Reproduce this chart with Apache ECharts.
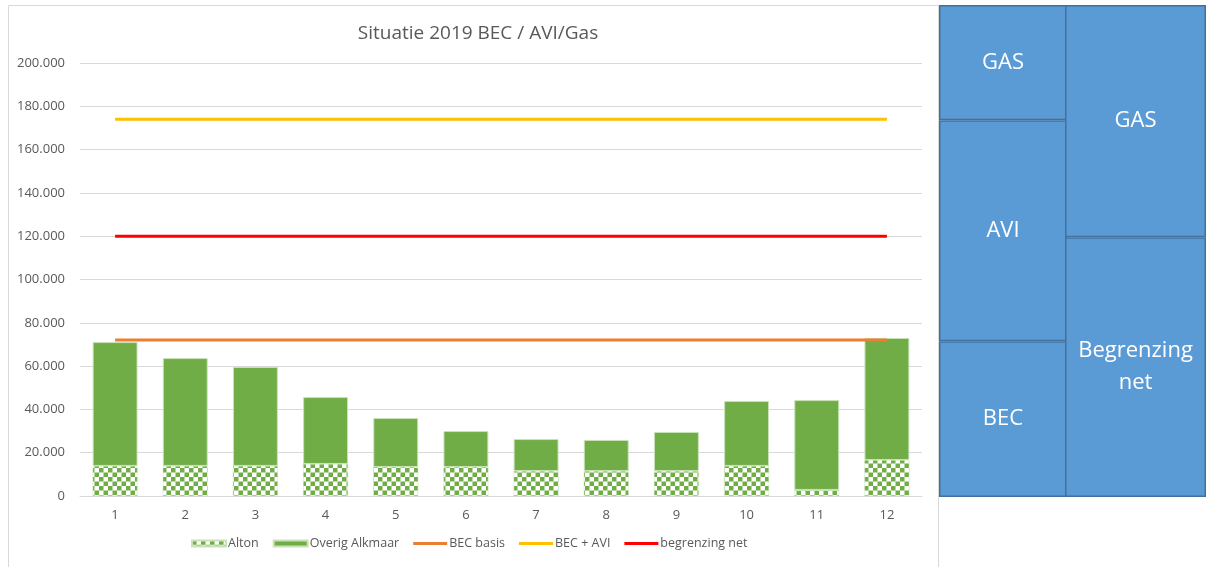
<!DOCTYPE html>
<html><head><meta charset="utf-8">
<script src="https://cdn.jsdelivr.net/npm/echarts@6/dist/echarts.min.js"></script>
<style>html,body{margin:0;padding:0;background:#fff}#c{width:1206px;height:567px}</style>
</head><body><div id="c"></div>
<script>
const months = ['1','2','3','4','5','6','7','8','9','10','11','12'];
const alton = [13900, 13900, 13900, 14800, 13400, 13400, 11500, 11500, 11500, 13900, 2800, 16600];
const totals = [71100, 63700, 59600, 45700, 36000, 30000, 26300, 25900, 29600, 43900, 44300, 73000];
const overig = totals.map((t, i) => t - alton[i]);
const becBasis = 72000;
const becAvi = 174000;
const begrenzingNet = 120000;
const yTicks = [0, 20000, 40000, 60000, 80000, 100000, 120000, 140000, 160000, 180000, 200000];
const boxLeftNames = ['BEC', 'AVI', 'GAS'];
const boxLeftValues = [72000, 102000, 53300];
const boxRightNames = ['Begrenzing\nnet', 'GAS'];
const boxRightValues = [120000, 107300];
const boxMax = 227300;

const FONT = "'Liberation Sans Narrow', 'Open Sans', sans-serif";
const GREEN = '#70AD47';

function makeChecker() {
  const c = document.createElement('canvas');
  c.width = 9; c.height = 9;
  const g = c.getContext('2d');
  g.fillStyle = '#ffffff'; g.fillRect(0, 0, 9, 9);
  g.fillStyle = GREEN;
  g.fillRect(0, 0, 4.5, 4.5); g.fillRect(4.5, 4.5, 4.5, 4.5);
  return c;
}
const checker = { image: makeChecker(), repeat: 'repeat' };

const fmt = v => String(v).replace(/\B(?=(\d{3})+(?!\d))/g, '.');
const flat = v => months.map(() => v);

const chart = echarts.init(document.getElementById('c'), null, { renderer: 'canvas' });

const boxItem = { color: '#5B9BD5', borderColor: '#41719C', borderWidth: 1.5 };
const boxLabel = { show: true, position: 'inside', color: '#ffffff', fontSize: 22, fontFamily: "'Open Sans', sans-serif", lineHeight: 32 };

const series = [
  { name: 'Alton', type: 'bar', stack: 'm', xAxisIndex: 0, yAxisIndex: 0, data: alton, barWidth: '64%',
    itemStyle: { color: checker, borderColor: '#c9e2b8', borderWidth: 0.5 } },
  { name: 'Overig Alkmaar', type: 'bar', stack: 'm', xAxisIndex: 0, yAxisIndex: 0, data: overig, barWidth: '64%',
    itemStyle: { color: GREEN, borderColor: '#c9e2b8', borderWidth: 1 } },
  { name: 'BEC basis', type: 'line', xAxisIndex: 0, yAxisIndex: 0, data: flat(becBasis), symbol: 'none',
    lineStyle: { color: '#ED7D31', width: 3 }, itemStyle: { color: '#ED7D31' } },
  { name: 'BEC + AVI', type: 'line', xAxisIndex: 0, yAxisIndex: 0, data: flat(becAvi), symbol: 'none',
    lineStyle: { color: '#FFC000', width: 3 }, itemStyle: { color: '#FFC000' } },
  { name: 'begrenzing net', type: 'line', xAxisIndex: 0, yAxisIndex: 0, data: flat(begrenzingNet), symbol: 'none',
    lineStyle: { color: '#FF0000', width: 3 }, itemStyle: { color: '#FF0000' } }
];
boxLeftNames.forEach((n, i) => {
  series.push({ type: 'bar', stack: 'bl', xAxisIndex: 1, yAxisIndex: 1, barWidth: '100%',
    data: [boxLeftValues[i]], itemStyle: boxItem, label: Object.assign({ formatter: n }, boxLabel), silent: true });
});
boxRightNames.forEach((n, i) => {
  series.push({ type: 'bar', stack: 'br', xAxisIndex: 2, yAxisIndex: 2, barWidth: '100%',
    data: [boxRightValues[i]], itemStyle: boxItem, label: Object.assign({ formatter: n }, boxLabel), silent: true });
});

const lineIcon = 'path://M0,0 L34,0 L34,3 L0,3 Z';

chart.setOption({
  animation: false,
  backgroundColor: '#ffffff',
  title: { text: 'Situatie 2019 BEC / AVI/Gas', left: 473, top: 19, textAlign: 'center',
    textStyle: { fontFamily: FONT, fontSize: 19, fontWeight: 'normal', color: '#595959' } },
  legend: { bottom: 12, left: 186, itemGap: 14, itemWidth: 34, itemHeight: 6,
    data: [
      { name: 'Alton', icon: 'rect' },
      { name: 'Overig Alkmaar', icon: 'rect' },
      { name: 'BEC basis', icon: lineIcon },
      { name: 'BEC + AVI', icon: lineIcon },
      { name: 'begrenzing net', icon: lineIcon }
    ],
    textStyle: { fontFamily: FONT, fontSize: 12.5, color: '#595959', padding: [0, 0, 0, -3] } },
  graphic: [
    { type: 'rect', shape: { x: 8.5, y: 5.5, width: 930, height: 570 }, style: { fill: 'none', stroke: '#d9d9d9', lineWidth: 1 }, z: -1 }
  ],
  grid: [
    { left: 80, right: 284, top: 63, bottom: 71 },
    { left: 939, width: 128, top: 5, bottom: 70 },
    { left: 1065, right: -20, top: 5, bottom: 70 }
  ],
  xAxis: [
    { type: 'category', gridIndex: 0, data: months,
      axisLine: { lineStyle: { color: '#d9d9d9' } }, axisTick: { show: false },
      axisLabel: { color: '#595959', fontFamily: FONT, fontSize: 13, margin: 13 } },
    { type: 'category', gridIndex: 1, data: ['a'], show: false },
    { type: 'category', gridIndex: 2, data: ['b'], show: false }
  ],
  yAxis: [
    { type: 'value', gridIndex: 0, min: yTicks[0], max: yTicks[yTicks.length - 1], interval: yTicks[1] - yTicks[0],
      axisLine: { show: false }, axisTick: { show: false },
      splitLine: { lineStyle: { color: '#d9d9d9', width: 1 } },
      axisLabel: { color: '#595959', fontFamily: FONT, fontSize: 13, margin: 15, formatter: fmt } },
    { type: 'value', gridIndex: 1, min: 0, max: boxMax, show: false, splitLine: { show: false } },
    { type: 'value', gridIndex: 2, min: 0, max: boxMax, show: false, splitLine: { show: false } }
  ],
  series: series
});
</script></body></html>
